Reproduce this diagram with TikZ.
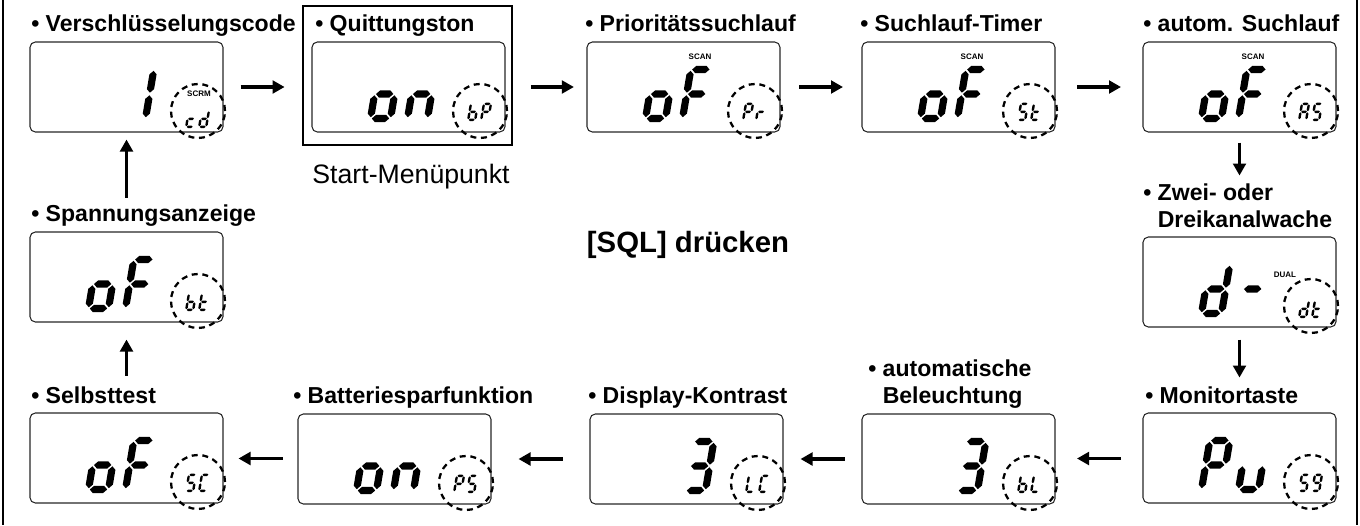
\documentclass[tikz,border=0pt]{standalone}
\usepackage{fontspec}
\setmainfont{Liberation Sans}
\usetikzlibrary{arrows.meta,calc}

% seven-segment helpers (local coords: px, y up)
\newcommand{\hsegm}[3]{\fill ({#1+\segG},{#3}) -- ({#1+\segG+\segT/2},{#3+\segT/2}) -- ({#2-\segG-\segT/2},{#3+\segT/2}) -- ({#2-\segG},{#3}) -- ({#2-\segG-\segT/2},{#3-\segT/2}) -- ({#1+\segG+\segT/2},{#3-\segT/2}) -- cycle;}
\newcommand{\vsegm}[3]{\fill ({#1},{#2+\segG}) -- ({#1+\segT/2},{#2+\segG+\segT/2}) -- ({#1+\segT/2},{#3-\segG-\segT/2}) -- ({#1},{#3-\segG}) -- ({#1-\segT/2},{#3-\segG-\segT/2}) -- ({#1-\segT/2},{#2+\segG+\segT/2}) -- cycle;}
\newcommand{\sgA}{\hsegm{0}{\dw}{\dh}}
\newcommand{\sgB}{\vsegm{\dw}{\dh/2}{\dh}}
\newcommand{\sgC}{\vsegm{\dw}{0}{\dh/2}}
\newcommand{\sgD}{\hsegm{0}{\dw}{0}}
\newcommand{\sgE}{\vsegm{0}{0}{\dh/2}}
\newcommand{\sgF}{\vsegm{0}{\dh/2}{\dh}}
\newcommand{\sgG}{\hsegm{0}{\dw}{\dh/2}}
\newcommand{\sdig}[7]{\begin{scope}[shift={({#1},{#2})},yscale=-1,xslant=-0.17]\def\dw{#3}\def\dh{#4}\def\segT{#5}\def\segG{#6}#7\end{scope}}
\newcommand{\bigdig}[3]{\sdig{#1+3.5}{#2-3.5}{20}{49}{7.2}{1.3}{#3}}
\newcommand{\smalldig}[3]{\sdig{#1+1.2}{#2-1.2}{7}{16}{2.4}{0.6}{#3}}
% glyphs
\newcommand{\dgo}{\sgC\sgD\sgE\sgG}
\newcommand{\dgn}{\sgC\sgE\sgG}
\newcommand{\dgF}{\sgA\sgE\sgF\sgG}
\newcommand{\dgone}{\sgB\sgC}
\newcommand{\dgthree}{\sgA\sgB\sgC\sgD\sgG}
\newcommand{\dgd}{\sgB\sgC\sgD\sgE\sgG}
\newcommand{\dgdash}{\sgG}
\newcommand{\dgP}{\sgA\sgB\sgE\sgF\sgG}
\newcommand{\dgu}{\sgC\sgD\sgE}
\newcommand{\dgc}{\sgD\sgE\sgG}
\newcommand{\dgb}{\sgC\sgD\sgE\sgF\sgG}
\newcommand{\dgr}{\sgE\sgG}
\newcommand{\dgS}{\sgA\sgC\sgD\sgF\sgG}
\newcommand{\dgt}{\sgD\sgE\sgF\sgG}
\newcommand{\dgA}{\sgA\sgB\sgC\sgE\sgF\sgG}
\newcommand{\dgC}{\sgA\sgD\sgE\sgF}
\newcommand{\dgL}{\sgD\sgE\sgF}
\newcommand{\dgnine}{\sgA\sgB\sgC\sgD\sgF\sgG}

\newcommand{\lcdpanel}[8]{%
 \node[lcd] (#1) at ({#2+96.5},{#3+45}) {};
 \pgfmathsetmacro\pR{#2+193}\pgfmathsetmacro\pB{#3+90}%
 \bigdig{\pR-138}{\pB-10}{#4}%
 \bigdig{\pR-101}{\pB-10}{#5}%
 \draw[ring] ({\pR-25},{\pB-21}) circle[radius=20.25pt];
 \smalldig{\pR-38}{\pB-21+#8}{#6}%
 \smalldig{\pR-25}{\pB-21+#8}{#7}%
}

\begin{document}
\begin{tikzpicture}[x=0.75pt,y=-0.75pt,
  lcd/.style={draw=black!85, rounded corners=4pt, line width=0.8pt, minimum width=144.75pt, minimum height=67.5pt, inner sep=0pt},
  ring/.style={draw=black, line width=1.7pt, dash pattern=on 4.5pt off 3.5pt},
  lab/.style={font=\bfseries\fontsize{17.3}{20}\selectfont, anchor=base west, inner sep=0pt},
  tinylab/.style={font=\bfseries\fontsize{6}{7}\selectfont, inner sep=0pt},
  arr/.style={line width=2.3pt, -{Triangle[length=9pt,width=9.5pt]}}]
\useasboundingbox (0,0) rectangle (1360,525);
\draw[line width=1.3pt] (3,0) -- (3,525);
\draw[line width=1.3pt] (1357,0) -- (1357,525);

% start frame
\node[draw, line width=2pt, minimum width=156.75pt, minimum height=104.25pt, inner sep=0pt] (qf) at (407.5,75.5) {};
\node[font=\fontsize{20}{24}\selectfont, anchor=base, inner sep=0pt] (sm) at (411,183) {Start-Menüpunkt};
\draw[line width=1pt] ($(qf.south)+(1.5,0)$) -- ($(qf.south)+(1.5,0)$ |- sm.north);

% panels
\lcdpanel{d1}{30}{42}{}{\dgone}{\dgc}{\dgd}{17}
\lcdpanel{d2}{312}{42}{\dgo}{\dgn}{\dgb}{\dgP}{10}
\lcdpanel{d3}{587}{42}{\dgo}{\dgF}{\dgP}{\dgr}{10}
\lcdpanel{d4}{862}{42}{\dgo}{\dgF}{\dgS}{\dgt}{10}
\lcdpanel{d5}{1143}{42}{\dgo}{\dgF}{\dgA}{\dgS}{10}
\lcdpanel{d6}{1143}{237}{\dgd}{\dgdash}{\dgd}{\dgt}{12}
\lcdpanel{d7}{30}{232}{\dgo}{\dgF}{\dgb}{\dgt}{10}
\lcdpanel{d8}{30}{413}{\dgo}{\dgF}{\dgS}{\dgC}{10}
\lcdpanel{d9}{298}{414}{\dgo}{\dgn}{\dgP}{\dgS}{10}
\lcdpanel{d10}{590}{414}{}{\dgthree}{\dgL}{\dgC}{10}
\lcdpanel{d11}{862}{414}{}{\dgthree}{\dgb}{\dgL}{10}
\lcdpanel{d12}{1143}{413}{\dgP}{\dgu}{\dgS}{\dgnine}{10}

% small indicator labels
\node[tinylab] (scrm) at (199,94) {SCRM};
\node[tinylab] (scan3) at (700,57) {SCAN};
\node[tinylab] (scan4) at (972,57) {SCAN};
\node[tinylab] (scan5) at (1253,57) {SCAN};
\node[tinylab] (dual) at (1285,275) {DUAL};

% titles
\node[lab] (t1) at (31,31) {• Verschlüsselungscode};
\node[lab] (t2) at (315,31) {• Quittungston};
\node[lab] (t3) at (585,31) {• Prioritätssuchlauf};
\node[lab] (t4) at (860,31) {• Suchlauf-Timer};
\node[lab] (t5) at (1143,31) {• autom. Suchlauf};
\node[lab] (t6a) at (1143,200) {• Zwei- oder};
\node[lab] (t6b) at (1143,227) {\phantom{•}\ Dreikanalwache};
\node[lab] (t7) at (31,221) {• Spannungsanzeige};
\node[lab] (t8) at (31,403) {• Selbsttest};
\node[lab] (t9) at (293,403) {• Batteriesparfunktion};
\node[lab] (t10) at (588,403) {• Display-Kontrast};
\node[lab] (t11a) at (868,376) {• automatische};
\node[lab] (t11b) at (868,403) {\phantom{•}\ Beleuchtung};
\node[lab] (t12) at (1145,403) {• Monitortaste};

\node[font=\bfseries\fontsize{22}{26}\selectfont, anchor=base, inner sep=0pt] (sql) at (688,252) {[SQL] drücken};

% arrows top row
\draw[arr] ($(d1.east)!0.5!(d1.east -| qf.west)+(-22,0)$) -- ($(d1.east)!0.5!(d1.east -| qf.west)+(22,0)$);
\draw[arr] ($(d3.west -| qf.east)!0.5!(d3.west)+(-19,0)$) -- ($(d3.west -| qf.east)!0.5!(d3.west)+(24,0)$);
\draw[arr] ($(d3.east)!0.5!(d4.west)+(-22,0)$) -- ($(d3.east)!0.5!(d4.west)+(22,0)$);
\draw[arr] ($(d4.east)!0.5!(d5.west)+(-22,0)$) -- ($(d4.east)!0.5!(d5.west)+(22,0)$);
% right column
\draw[arr] ($(d5.south)+(0,10)$) -- ($(d5.south)+(0,43)$);
\draw[arr] ($(d6.south)+(0,12)$) -- ($(d6.south)+(0,50)$);
% bottom row
\draw[arr] ($(d12.west)!0.5!(d11.east)+(22,0)$) -- ($(d12.west)!0.5!(d11.east)+(-22,0)$);
\draw[arr] ($(d11.west)!0.5!(d10.east)+(22,0)$) -- ($(d11.west)!0.5!(d10.east)+(-22,0)$);
\draw[arr] ($(d10.west)!0.5!(d9.east)+(22,0)$) -- ($(d10.west)!0.5!(d9.east)+(-22,0)$);
\draw[arr] ($(d9.west)!0.5!(d8.east)+(22,0)$) -- ($(d9.west)!0.5!(d8.east)+(-22,0)$);
% left column
\draw[arr] ($(d7.south)+(0,53)$) -- ($(d7.south)+(0,17)$);
\draw[arr] ($(d1.south)+(0,65)$) -- ($(d1.south)+(0,7)$);
\end{tikzpicture}
\end{document}
